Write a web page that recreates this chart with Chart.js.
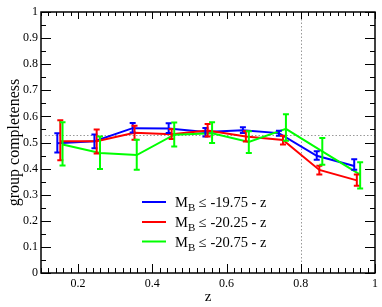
<!DOCTYPE html>
<html>
<head>
<meta charset="utf-8">
<script src="https://cdn.jsdelivr.net/npm/chart.js@4"></script>
<style>
  html, body { margin: 0; padding: 0; background: #fff; }
  #myChart { display: block; }
</style>
</head>
<body>
<canvas id="myChart" width="382" height="307"></canvas>
<script>
// valores
var blueZ   = [0.144, 0.244, 0.347, 0.444, 0.543, 0.644, 0.741, 0.843, 0.944];
var blueC   = [0.497, 0.505, 0.555, 0.554, 0.540, 0.547, 0.536, 0.449, 0.410];
var blueLo  = [0.462, 0.478, 0.538, 0.536, 0.523, 0.536, 0.526, 0.434, 0.396];
var blueHi  = [0.535, 0.531, 0.575, 0.574, 0.556, 0.558, 0.545, 0.466, 0.436];

var redZ    = [0.152, 0.250, 0.352, 0.452, 0.549, 0.652, 0.752, 0.850, 0.951];
var redC    = [0.505, 0.505, 0.537, 0.532, 0.546, 0.523, 0.510, 0.395, 0.355];
var redLo   = [0.432, 0.458, 0.511, 0.513, 0.523, 0.504, 0.492, 0.377, 0.334];
var redHi   = [0.585, 0.550, 0.564, 0.552, 0.571, 0.543, 0.526, 0.411, 0.377];

var greenZ  = [0.158, 0.259, 0.358, 0.459, 0.561, 0.660, 0.760, 0.858, 0.960];
var greenC  = [0.492, 0.460, 0.452, 0.530, 0.535, 0.502, 0.552, 0.466, 0.377];
var greenLo = [0.412, 0.398, 0.396, 0.485, 0.498, 0.460, 0.507, 0.415, 0.324];
var greenHi = [0.578, 0.523, 0.511, 0.577, 0.578, 0.543, 0.608, 0.517, 0.424];

var seriesCuts = ['-19.75 - z', '-20.25 - z', '-20.75 - z'];
var xTickLabels = [0.2, 0.4, 0.6, 0.8, 1];
var yTickLabels = [0, 0.1, 0.2, 0.3, 0.4, 0.5, 0.6, 0.7, 0.8, 0.9, 1];
var refZ = 0.8;              // linha pontilhada vertical
var refCompleteness = 0.527; // linha pontilhada horizontal

var SERIF = '"Liberation Serif", "DejaVu Serif", serif';

function pts(xs, ys) {
  return xs.map(function (x, i) { return { x: x, y: ys[i] }; });
}

var series = [
  { z: blueZ, c: blueC, lo: blueLo, hi: blueHi, color: '#0000ff' },
  { z: redZ, c: redC, lo: redLo, hi: redHi, color: '#ff0000' },
  { z: greenZ, c: greenC, lo: greenLo, hi: greenHi, color: '#00ff00' },
];

var data = {
  datasets: series.map(function (s, i) {
    return {
      label: 'M_B ≤ ' + seriesCuts[i],
      data: pts(s.z, s.c),
      borderColor: s.color,
      borderWidth: 2,
      pointRadius: 0,
      showLine: true,
      fill: false,
      order: 2 - i, // verde por cima
    };
  }),
};

// desenha moldura, ticks internos, linhas pontilhadas, barras de erro e legenda
var extras = {
  id: 'extras',
  beforeDatasetsDraw: function (chart) {
    var ctx = chart.ctx, a = chart.chartArea;
    var xs = chart.scales.x, ys = chart.scales.y;
    ctx.save();
    ctx.strokeStyle = '#999';
    ctx.lineWidth = 1;
    ctx.setLineDash([1.5, 2]);
    var px = Math.round(xs.getPixelForValue(refZ)) + 0.5;
    var py = Math.round(ys.getPixelForValue(refCompleteness)) + 0.5;
    ctx.beginPath();
    ctx.moveTo(px, a.top); ctx.lineTo(px, a.bottom);
    ctx.moveTo(a.left + 4, py); ctx.lineTo(a.right, py);
    ctx.stroke();
    ctx.restore();
  },
  afterDatasetsDraw: function (chart) {
    var ctx = chart.ctx, a = chart.chartArea;
    var xs = chart.scales.x, ys = chart.scales.y;
    ctx.save();
    // barras de erro
    series.forEach(function (s) {
      ctx.strokeStyle = s.color;
      ctx.lineWidth = 2;
      ctx.beginPath();
      s.z.forEach(function (z, i) {
        var x = xs.getPixelForValue(z);
        var y1 = ys.getPixelForValue(s.lo[i]);
        var y2 = ys.getPixelForValue(s.hi[i]);
        ctx.moveTo(x, y1); ctx.lineTo(x, y2);
        ctx.moveTo(x - 3, y1); ctx.lineTo(x + 3, y1);
        ctx.moveTo(x - 3, y2); ctx.lineTo(x + 3, y2);
      });
      ctx.stroke();
    });

    // ticks nos quatro lados
    ctx.strokeStyle = '#000';
    ctx.lineWidth = 1;
    ctx.beginPath();
    for (var k = 0; k <= 45; k++) {
      var major = (k + 5) % 10 === 0;
      var x = Math.round(xs.getPixelForValue(0.1 + k * 0.02)) + 0.5;
      ctx.moveTo(x, a.bottom); ctx.lineTo(x, a.bottom - (major ? 9 : 5));
      ctx.moveTo(x, a.top); ctx.lineTo(x, a.top + (major ? 7 : 4));
    }
    for (var j = 0; j <= 20; j++) {
      var ylen = j % 2 === 0 ? 10 : 5;
      var y = Math.round(ys.getPixelForValue(j * 0.05)) + 0.5;
      ctx.moveTo(a.left, y); ctx.lineTo(a.left + ylen, y);
      ctx.moveTo(a.right, y); ctx.lineTo(a.right - ylen, y);
    }
    ctx.stroke();

    // moldura
    ctx.lineWidth = 1.5;
    ctx.strokeRect(a.left, a.top, a.right - a.left, a.bottom - a.top);

    // legenda
    var lx = 142, ly = [202, 222, 241.5];
    series.forEach(function (s, i) {
      ctx.strokeStyle = s.color;
      ctx.lineWidth = 2;
      ctx.beginPath();
      ctx.moveTo(lx, ly[i]); ctx.lineTo(lx + 24, ly[i]);
      ctx.stroke();
      ctx.fillStyle = '#000';
      ctx.textBaseline = 'alphabetic';
      ctx.textAlign = 'left';
      ctx.font = '14.5px ' + SERIF;
      var tx = lx + 33, ty = ly[i] + 5;
      ctx.fillText('M', tx, ty);
      var w = ctx.measureText('M').width;
      ctx.font = '11px ' + SERIF;
      ctx.fillText('B', tx + w, ty + 4);
      var wb = ctx.measureText('B').width;
      ctx.font = '14.5px ' + SERIF;
      ctx.fillText(' ≤ ' + seriesCuts[i], tx + w + wb, ty);
    });
    ctx.restore();
  },
};

function plainLabel(v) { return String(v); }

var options = {
  responsive: false,
  animation: false,
  layout: { padding: { top: 12, right: 7, left: 0, bottom: 0 } },
  plugins: { legend: { display: false }, tooltip: { enabled: false } },
  scales: {
    x: {
      type: 'linear',
      min: 0.1,
      max: 1,
      afterBuildTicks: function (s) { s.ticks = xTickLabels.map(function (v) { return { value: v }; }); },
      afterFit: function (s) { s.height = 34; },
      grid: { display: false, drawTicks: false },
      border: { display: false },
      ticks: { color: '#000', padding: 4, maxRotation: 0, callback: plainLabel, font: { family: SERIF, size: 12 } },
      title: { display: true, text: 'z', color: '#000', padding: { top: 0, bottom: 1 }, font: { family: SERIF, size: 15 } },
    },
    y: {
      min: 0,
      max: 1,
      afterBuildTicks: function (s) { s.ticks = yTickLabels.map(function (v) { return { value: v }; }); },
      afterFit: function (s) { s.width = 41; },
      grid: { display: false, drawTicks: false },
      border: { display: false },
      ticks: { color: '#000', padding: 3, callback: plainLabel, font: { family: SERIF, size: 12 } },
      title: { display: true, text: 'group completeness', color: '#000', padding: { top: 5, bottom: 0 }, font: { family: SERIF, size: 16 } },
    },
  },
};

var ctx = document.getElementById('myChart').getContext('2d');
var myChart = new Chart(ctx, {
  type: 'scatter',
  data: data,
  options: options,
  plugins: [extras],
});
</script>
</body>
</html>
